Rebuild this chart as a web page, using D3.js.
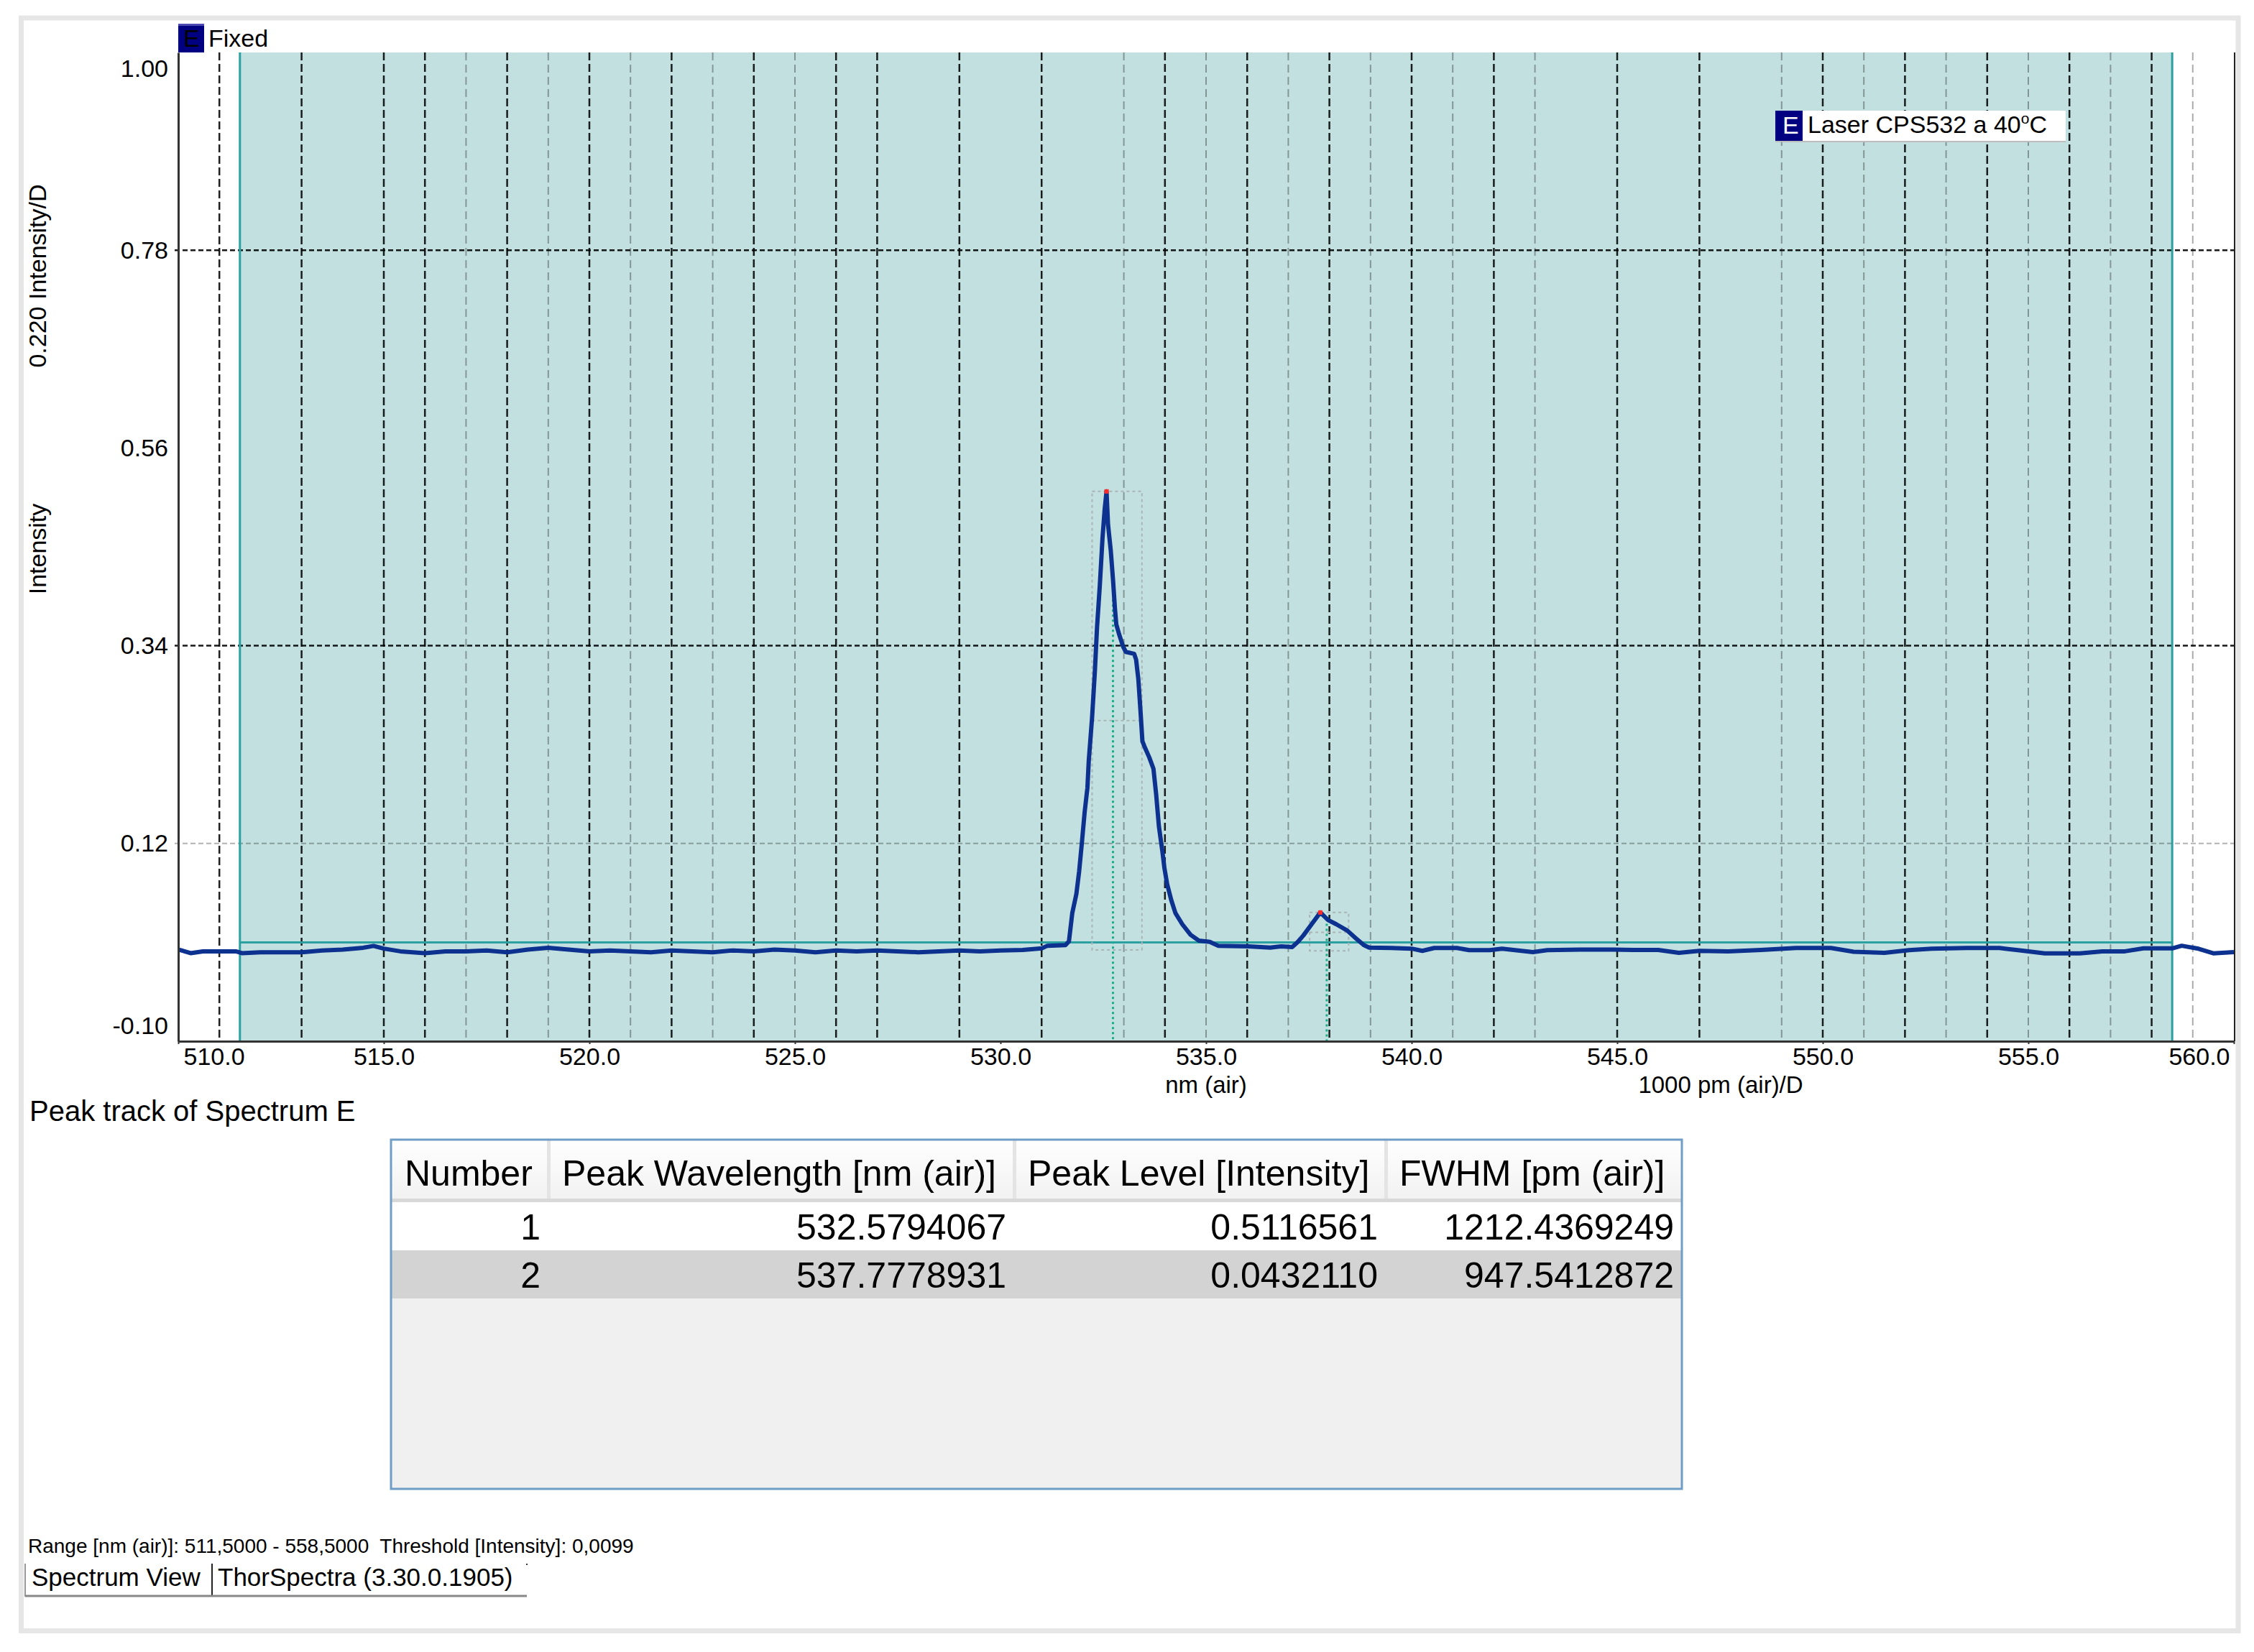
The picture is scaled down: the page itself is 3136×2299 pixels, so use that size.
<!DOCTYPE html>
<html><head><meta charset="utf-8">
<script src="https://cdn.jsdelivr.net/npm/d3@7"></script>
<style>
html,body{margin:0;padding:0;background:#fff;}
svg{display:block;}
text{font-family:"Liberation Sans",Arial,sans-serif;}
</style></head><body>
<svg id="chart" width="3136" height="2299"></svg>
<script>
// ---------------- data ----------------
const wavelength = [
  510.0,510.3,510.6,511.0,511.4,511.55,512.0,512.5,513.0,513.5,514.0,514.5,514.75,515.0,515.4,516.0,516.5,517.0,517.5,518.0,
  518.5,519.0,519.5,520.0,520.5,521.0,521.5,522.0,522.5,523.0,523.5,524.0,524.5,525.0,525.5,526.0,526.5,527.0,527.5,528.0,
  528.5,529.0,529.5,530.0,530.54,531.01,531.14,531.58,531.665,531.746,531.846,531.913,531.98,532.047,532.114,532.147,532.228,
  532.294,532.348,532.415,532.482,532.535,532.579,532.616,532.682,532.736,532.783,532.816,532.883,532.984,533.05,533.251,
  533.298,533.352,533.405,533.452,533.499,533.619,533.72,533.786,533.853,533.94,533.987,534.054,534.154,534.255,534.422,
  534.623,534.824,535.091,535.292,536.028,536.563,536.83,537.098,537.232,537.366,537.567,537.778,537.968,538.169,538.437,
  538.637,538.838,538.97,539.5,540.0,540.26,540.55,541.1,541.4,541.9,542.2,542.95,543.3,544.1,544.9,545.4,546.0,546.5,
  547.0,547.7,548.5,549.35,550.2,550.75,551.5,552.1,552.65,553.5,554.3,554.75,555.4,556.25,556.8,557.35,557.8,558.5,
  558.73,559.14,559.5,560.0
];
const intensity = [
  0.002,-0.002,0.000,0.000,0.000,-0.002,-0.001,-0.001,-0.001,0.001,0.002,0.004,0.006,0.003,0.000,-0.002,0.000,0.000,0.001,-0.001,
  0.002,0.004,0.002,0.000,0.001,0.000,-0.001,0.001,0.000,-0.001,0.001,0.000,0.002,0.001,-0.001,0.001,0.000,0.001,0.000,-0.001,
  0.000,0.001,0.000,0.001,0.0016,0.0034,0.0062,0.0069,0.0112,0.0426,0.0640,0.0890,0.1211,0.1550,0.1818,0.2121,0.2603,
  0.3103,0.3603,0.4066,0.4602,0.4923,0.5117,0.4745,0.4459,0.4138,0.3817,0.3638,0.3531,0.3388,0.3331,0.3310,
  0.3246,0.3032,0.2675,0.2336,0.2282,0.2157,0.2032,0.1747,0.1390,0.1104,0.0926,0.0747,0.0569,0.0426,0.0301,
  0.0184,0.0119,0.0105,0.0062,0.0055,0.0041,0.0055,0.0048,0.0105,0.0176,0.0301,0.0432,0.0348,0.0301,0.0230,
  0.0148,0.0069,0.0041,0.0037,0.0030,0.0005,0.0037,0.0037,0.0013,0.0013,0.0029,-0.0008,0.0013,0.0020,0.0020,0.0015,0.0015,-0.0017,
  0.0005,0.0000,0.0016,0.0037,0.0037,-0.0005,-0.0017,0.0013,0.0029,0.0037,0.0037,0.0013,-0.0022,-0.0022,0.0000,0.0000,0.0033,0.0033,
  0.0062,0.0029,-0.0022,-0.0008
];
const xTickValues = [510,515,520,525,530,535,540,545,550,555,560];
const yTickValues = [-0.10,0.12,0.34,0.56,0.78,1.00];
const xGridMajor = [511,513,515,516,518,520,522,524,526,527,529,531,534,536,538,540,542,545,547,550,552,554,556,558];
const xGridMinor = [517,519,521,523,525,533,535,537,539,541,543,549,551,553,555,557,559];
const yGridMajor = [0.78,0.34];
const yGridMinor = [0.12];
const trackRange = [511.5,558.5];
const threshold = 0.0099;

const peakNumber = [1,2];
const peakWavelength = [532.5794067,537.7778931];
const peakLevel = [0.5116561,0.0432110];
const peakFWHM = [1212.4369249,947.5412872];
const fwhmLeft = [532.228,537.52];
const halfLevel = [0.2568,0.0212];
const peakBase = [0.0016,0.0005];
const peakCentroid = [532.736,537.935];
const tableHeaders = ["Number","Peak Wavelength [nm (air)]","Peak Level [Intensity]","FWHM [pm (air)]"];

// ---------------- layout ----------------
const FONT = '"Liberation Sans",Arial,sans-serif';
const plot = {left:248,right:3108,top:73,bottom:1449};
const svg = d3.select('#chart');
const x = d3.scaleLinear().domain([510,560]).range([plot.left,plot.right]);
const y = d3.scaleLinear().domain([-0.10,1.00]).range([plot.bottom,plot.top]);

// outer frame
svg.append('rect').attr('x',29.5).attr('y',25).attr('width',3084.5).attr('height',2244.5)
  .attr('fill','#fff').attr('stroke','#e6e6e6').attr('stroke-width',7);

// teal track region
svg.append('rect').attr('x',x(trackRange[0])).attr('y',plot.top)
  .attr('width',x(trackRange[1])-x(trackRange[0])).attr('height',plot.bottom-plot.top)
  .attr('fill','#c3e0e0');

// gridlines
const grid = svg.append('g');
grid.selectAll('.vmin').data(xGridMinor).join('line')
  .attr('x1',d=>x(d)).attr('x2',d=>x(d)).attr('y1',plot.top).attr('y2',plot.bottom)
  .attr('stroke','rgba(0,0,0,0.33)').attr('stroke-width',2).attr('stroke-dasharray','11,6');
grid.selectAll('.vmaj').data(xGridMajor).join('line')
  .attr('x1',d=>x(d)).attr('x2',d=>x(d)).attr('y1',plot.top).attr('y2',plot.bottom)
  .attr('stroke','rgba(0,0,0,0.88)').attr('stroke-width',2.5).attr('stroke-dasharray','11,5');
grid.selectAll('.hmin').data(yGridMinor).join('line')
  .attr('x1',plot.left-5).attr('x2',plot.right).attr('y1',d=>y(d)).attr('y2',d=>y(d))
  .attr('stroke','rgba(0,0,0,0.3)').attr('stroke-width',2).attr('stroke-dasharray','7,4');
grid.selectAll('.hmaj').data(yGridMajor).join('line')
  .attr('x1',plot.left-5).attr('x2',plot.right).attr('y1',d=>y(d)).attr('y2',d=>y(d))
  .attr('stroke','rgba(0,0,0,0.9)').attr('stroke-width',2.5).attr('stroke-dasharray','7,4');

// track edges + threshold
const teal = '#2aa0a0';
svg.selectAll('.edge').data(trackRange).join('line')
  .attr('x1',d=>x(d)).attr('x2',d=>x(d)).attr('y1',plot.top).attr('y2',plot.bottom)
  .attr('stroke',teal).attr('stroke-width',3);
svg.append('line').attr('x1',x(trackRange[0])).attr('x2',x(trackRange[1]))
  .attr('y1',y(threshold)).attr('y2',y(threshold)).attr('stroke',teal).attr('stroke-width',3);

// FWHM boxes
const peaks = peakNumber.map((n,i)=>({n, wl:peakWavelength[i], lvl:peakLevel[i], fwhm:peakFWHM[i],
  left:fwhmLeft[i], half:halfLevel[i], base:peakBase[i], cen:peakCentroid[i]}));
const boxG = svg.append('g').attr('fill','none').attr('stroke','#a9b4b4').attr('stroke-width',2).attr('stroke-dasharray','4,4');
peaks.forEach(p=>{
  const x0 = x(p.left), x1 = x(p.left + p.fwhm/1000);
  boxG.append('rect').attr('x',x0).attr('y',y(p.lvl)).attr('width',x1-x0).attr('height',y(p.base)-y(p.lvl));
  boxG.append('line').attr('x1',x0).attr('x2',x1).attr('y1',y(p.half)).attr('y2',y(p.half));
});

// centroid lines
const pts = d3.zip(wavelength,intensity);
const bis = d3.bisector(d=>d[0]).left;
function interp(w){
  const i = Math.max(1,bis(pts,w)); const a = pts[i-1], b = pts[i];
  return a[1] + (b[1]-a[1])*(w-a[0])/(b[0]-a[0]);
}
svg.selectAll('.cen').data(peaks).join('line')
  .attr('x1',d=>x(d.cen)).attr('x2',d=>x(d.cen)).attr('y1',d=>y(interp(d.cen))).attr('y2',plot.bottom)
  .attr('stroke','#1aae88').attr('stroke-width',3).attr('stroke-dasharray','3,4');

// spectrum
svg.append('path').datum(pts)
  .attr('d',d3.line().x(d=>x(d[0])).y(d=>y(d[1])))
  .attr('fill','none').attr('stroke','#0c318f').attr('stroke-width',6).attr('stroke-linejoin','round');

// peak apex markers
svg.selectAll('.apex').data(peaks).join('rect')
  .attr('x',d=>x(d.wl)-3).attr('y',d=>y(d.lvl)-3).attr('width',6).attr('height',6).attr('fill','#ff2a2a');

// plot right border
svg.append('line').attr('x1',plot.right+1).attr('x2',plot.right+1).attr('y1',plot.top).attr('y2',plot.bottom)
  .attr('stroke','#222').attr('stroke-width',2);

// axes
const fmtY = d => d.toFixed(2), fmtX = d => d.toFixed(1);
const yAxisG = svg.append('g').attr('transform',`translate(${plot.left},0)`)
  .call(d3.axisLeft(y).tickValues(yTickValues).tickSize(0).tickSizeOuter(0).tickPadding(14).tickFormat(fmtY));
yAxisG.select('.domain').attr('stroke','#333').attr('stroke-width',3);
yAxisG.selectAll('text').attr('font-size',34).attr('font-family',FONT).attr('fill','#000')
  .attr('dy',d=> d===1.00 ? '33px' : (d===-0.10 ? '-11px' : '0.32em'));

const xAxisG = svg.append('g').attr('transform',`translate(0,${plot.bottom})`)
  .call(d3.axisBottom(x).tickValues(xTickValues).tickSize(4).tickSizeOuter(0).tickPadding(0).tickFormat(fmtX));
xAxisG.select('.domain').attr('stroke','#333').attr('stroke-width',3);
xAxisG.selectAll('.tick line').attr('stroke','#333').attr('stroke-width',2);
xAxisG.selectAll('text').attr('font-size',34).attr('font-family',FONT).attr('fill','#000')
  .attr('y',33).attr('dy',0)
  .attr('text-anchor',d=> d===510 ? 'start' : (d===560 ? 'end' : 'middle'))
  .attr('dx',d=> d===510 ? 7 : (d===560 ? -6 : 0));

// axis titles
function txt(s,xp,yp,size,anchor,fill){
  return svg.append('text').attr('x',xp).attr('y',yp).attr('font-size',size)
    .attr('text-anchor',anchor||'start').attr('fill',fill||'#000').attr('font-family',FONT).text(s);
}
txt('nm (air)',x(535),1521,33,'middle');
txt('1000 pm (air)/D',2394,1521,33,'middle');
svg.append('text').attr('transform','translate(64,384) rotate(-90)').attr('text-anchor','middle')
  .attr('font-size',34).attr('font-family',FONT).text('0.220 Intensity/D');
svg.append('text').attr('transform','translate(64,764) rotate(-90)').attr('text-anchor','middle')
  .attr('font-size',34).attr('font-family',FONT).text('Intensity');

// "E Fixed" tag
svg.append('rect').attr('x',248).attr('y',33).attr('width',36).attr('height',40).attr('fill','#000080');
svg.append('rect').attr('x',248).attr('y',33).attr('width',36).attr('height',3).attr('fill','#4a4ab0');
txt('E',255,65,34,'start','#000');
txt('Fixed',290,65,34);

// series legend
svg.append('rect').attr('x',2470).attr('y',154).attr('width',404).attr('height',44).attr('fill','#bdbdbd');
svg.append('rect').attr('x',2470).attr('y',154).attr('width',38).attr('height',42).attr('fill','#000080');
svg.append('rect').attr('x',2508).attr('y',154).attr('width',366).attr('height',42).attr('fill','#fff');
txt('E',2480,186,34,'start','#fff');
const lg = svg.append('text').attr('x',2515).attr('y',185).attr('font-size',34).attr('font-family',FONT).attr('fill','#000');
lg.append('tspan').text('Laser CPS532 a 40');
lg.append('tspan').attr('font-size',21).attr('dy',-13).text('o');
lg.append('tspan').attr('font-size',34).attr('dy',13).text('C');

// table title
txt('Peak track of Spectrum E',41,1560,40);

// table
const tb = {x:544, y:1586, w:1796, h:486, headH:86, rowH:67};
const colEdges = [544,763,1411,1928,2340];
const defs = svg.append('defs');
const grad = defs.append('linearGradient').attr('id','hdr').attr('x1',0).attr('x2',0).attr('y1',0).attr('y2',1);
grad.append('stop').attr('offset','0%').attr('stop-color','#ffffff');
grad.append('stop').attr('offset','100%').attr('stop-color','#f1f1f1');
svg.append('rect').attr('x',tb.x).attr('y',tb.y).attr('width',tb.w).attr('height',tb.h).attr('fill','#f0f0f0');
svg.append('rect').attr('x',tb.x).attr('y',tb.y).attr('width',tb.w).attr('height',tb.headH).attr('fill','url(#hdr)');
svg.append('rect').attr('x',tb.x).attr('y',tb.y+tb.headH-4).attr('width',tb.w).attr('height',5).attr('fill','#d8d8d8');
const rowFill = ['#ffffff','#d3d3d3'];
const rows = peaks.map((p,i)=>[String(p.n), d3.format('.7f')(p.wl), d3.format('.7f')(p.lvl), d3.format('.7f')(p.fwhm)]);
rows.forEach((r,i)=>{
  const ry = tb.y+tb.headH+1+i*tb.rowH;
  svg.append('rect').attr('x',tb.x).attr('y',ry).attr('width',tb.w).attr('height',tb.rowH).attr('fill',rowFill[i%2]);
  r.forEach((v,j)=>{
    txt(v,colEdges[j+1]-11,ry+52,50,'end');
  });
});
colEdges.slice(1,4).forEach(cx=>{
  svg.append('rect').attr('x',cx-2).attr('y',tb.y).attr('width',5).attr('height',tb.headH-4).attr('fill','#e4e4e4');
});
tableHeaders.forEach((h,j)=>{ txt(h,colEdges[j]+19,tb.y+64,50,'start'); });
svg.append('rect').attr('x',tb.x).attr('y',tb.y).attr('width',tb.w).attr('height',tb.h)
  .attr('fill','none').attr('stroke','#6f9dc6').attr('stroke-width',3);

// footer
txt('Range [nm (air)]: 511,5000 - 558,5000  Threshold [Intensity]: 0,0099',39,2161,28).style('white-space','pre');
txt('Spectrum View',44,2207,35);
txt('ThorSpectra (3.30.0.1905)',303,2207,35);
svg.append('line').attr('x1',35).attr('x2',35).attr('y1',2176).attr('y2',2222).attr('stroke','#999').attr('stroke-width',2);
svg.append('line').attr('x1',295).attr('x2',295).attr('y1',2176).attr('y2',2222).attr('stroke','#222').attr('stroke-width',2);
svg.append('line').attr('x1',35).attr('x2',733).attr('y1',2221).attr('y2',2221).attr('stroke','#888').attr('stroke-width',3);
svg.append('rect').attr('x',732).attr('y',2176).attr('width',2).attr('height',2).attr('fill','#333');
</script>
</body></html>
